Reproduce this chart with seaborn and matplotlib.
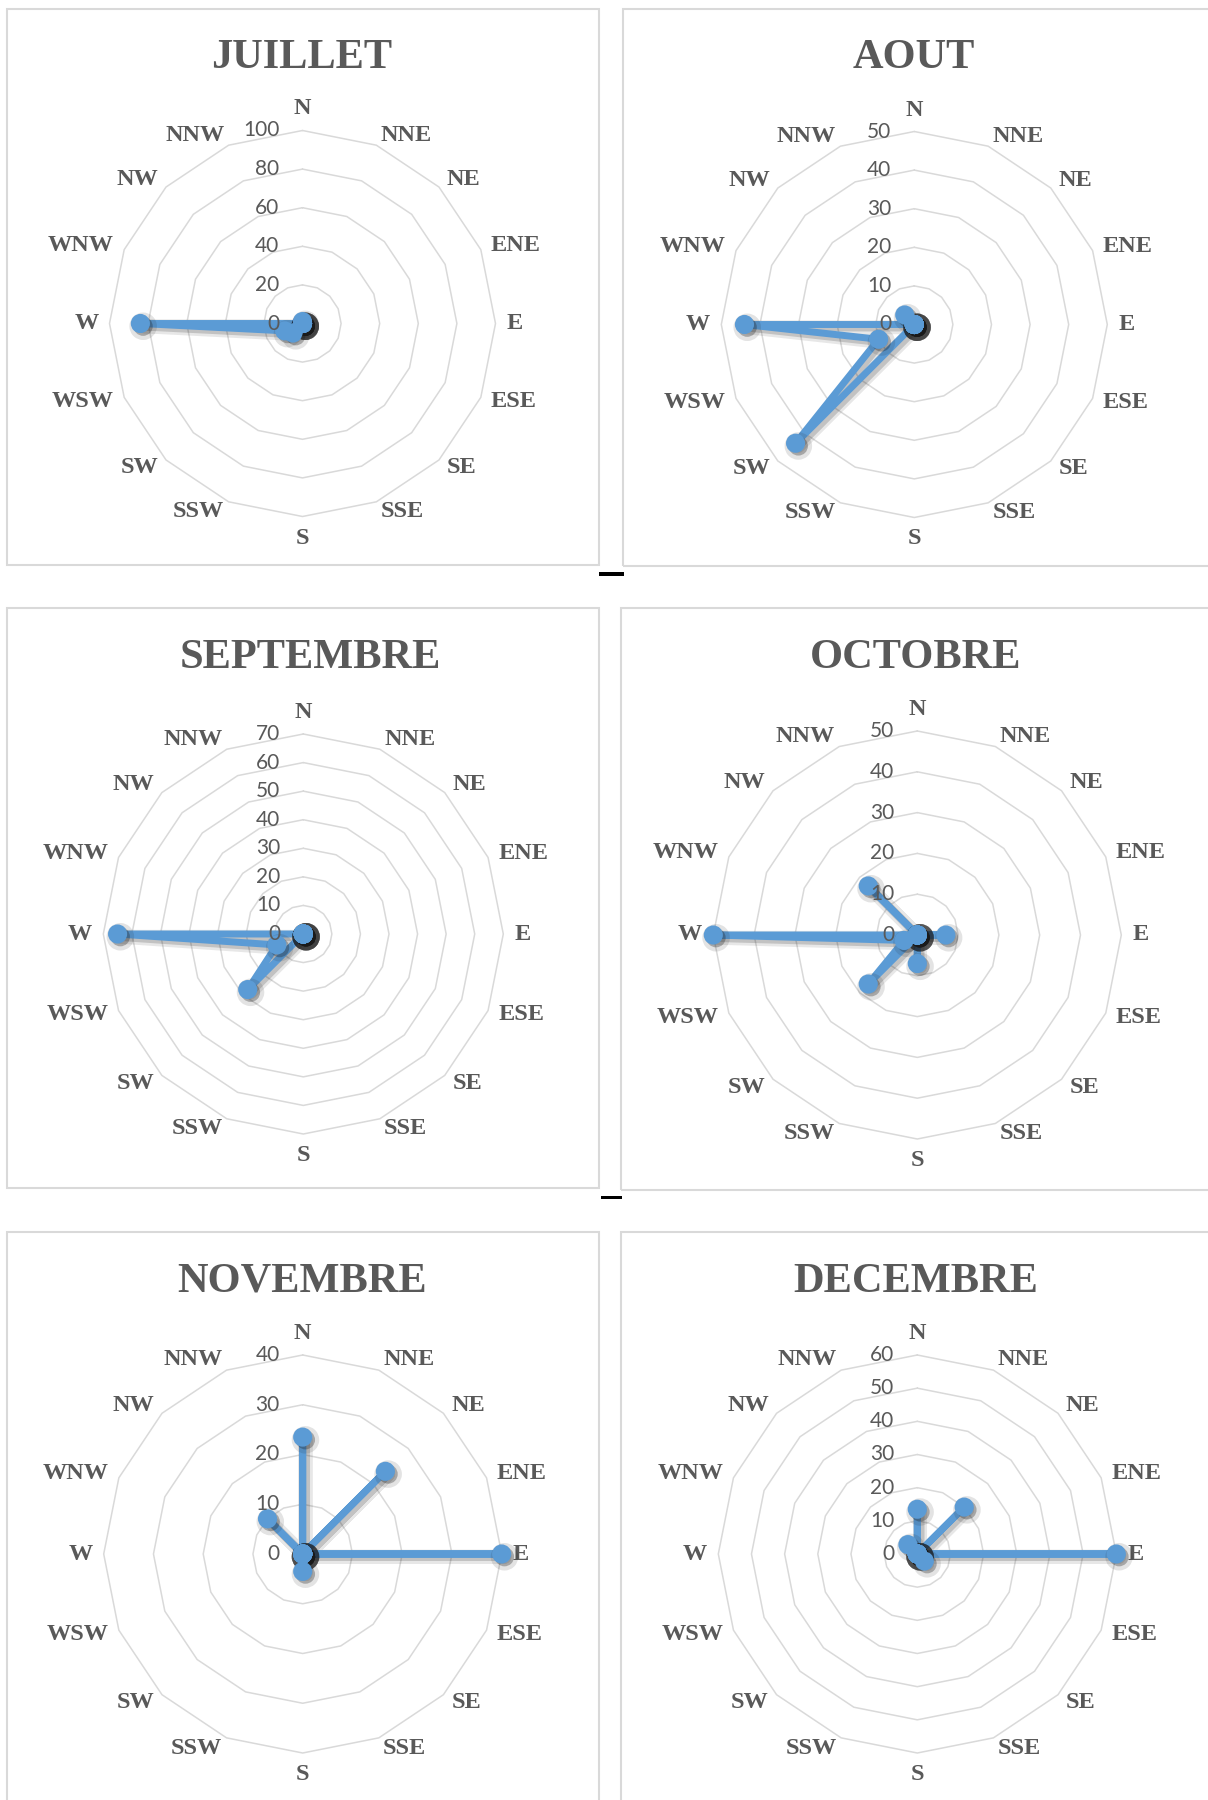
import numpy as np
import pandas as pd
import matplotlib
matplotlib.use("Agg")
import matplotlib.pyplot as plt
import matplotlib.patheffects as pe
from matplotlib.patches import Rectangle
from matplotlib import transforms
import seaborn as sns

sns.set_theme(style="white")
plt.rcParams["font.family"] = ["Liberation Serif", "DejaVu Serif"]

# Wind directions, clockwise from north
directions = ["N", "NNE", "NE", "ENE", "E", "ESE", "SE", "SSE",
              "S", "SSW", "SW", "WSW", "W", "WNW", "NW", "NNW"]

# Monthly frequency per direction
juillet = [1, 0, 0, 0, 0, 0, 0, 0, 0, 0, 7, 10, 84, 0, 0, 0]
aout = [0, 0, 0, 0, 0, 0, 0, 0, 0, 0, 43.5, 10, 44, 0, 3.5, 0]
septembre = [0, 0, 0, 0, 0, 0, 0, 0, 0, 0, 27.5, 10, 65, 0, 0, 0]
octobre = [0, 0, 0, 0, 7, 0, 0, 0, 7, 0, 17, 3.5, 50, 0, 17, 0]
novembre = [23.5, 0, 23.5, 0, 40, 0, 0, 0, 3.5, 0, 0, 0, 0, 0, 10, 0]
decembre = [13.5, 0, 20, 0, 60, 0, 3, 0, 0, 0, 0, 0, 0, 0, 4, 0]

# Radial tick values per month
ticks_juillet = [0, 20, 40, 60, 80, 100]
ticks_aout = [0, 10, 20, 30, 40, 50]
ticks_septembre = [0, 10, 20, 30, 40, 50, 60, 70]
ticks_octobre = [0, 10, 20, 30, 40, 50]
ticks_novembre = [0, 10, 20, 30, 40]
ticks_decembre = [0, 10, 20, 30, 40, 50, 60]

titles = ["JUILLET", "AOUT", "SEPTEMBRE", "OCTOBRE", "NOVEMBRE", "DECEMBRE"]
series = [juillet, aout, septembre, octobre, novembre, decembre]
ticks = [ticks_juillet, ticks_aout, ticks_septembre, ticks_octobre,
         ticks_novembre, ticks_decembre]

# Layout in pixels: radar centre, radius, title centre, panel frame
W, H = 1208, 1800
centers = [(302.5, 323.5), (914.3, 324.5), (303.3, 934), (917.3, 935),
           (302.7, 1554), (917.3, 1554)]
radii = [193, 193, 200, 204, 199, 199]
title_pos = [(302, 58), (914, 58), (310, 658), (916, 658), (302, 1282), (916, 1282)]
frames = [(7, 9, 599, 565), (623, 9, 1212, 566), (7, 608, 599, 1188),
          (621, 608, 1212, 1190), (7, 1232, 599, 1810), (621, 1232, 1212, 1810)]

BLUE = "#5B9BD5"
GRID = "#d9d9d9"
TEXT = "#595959"

fig = plt.figure(figsize=(W / 100, H / 100), dpi=100)
fig.patch.set_facecolor("white")

# Panel frames
for (x0, y0, x1, y1) in frames:
    fig.patches.append(Rectangle((x0 / W, 1 - y1 / H), (x1 - x0) / W, (y1 - y0) / H,
                                 transform=fig.transFigure, fill=False,
                                 edgecolor=GRID, linewidth=1.5, zorder=0))

# Small dashes between the upper panels
for (x0, y0, x1, y1) in [(599, 572, 624, 576), (601, 1196, 622, 1199)]:
    fig.patches.append(Rectangle((x0 / W, 1 - y1 / H), (x1 - x0) / W, (y1 - y0) / H,
                                 transform=fig.transFigure, facecolor="black",
                                 edgecolor="none", zorder=5))

theta = np.linspace(0, 2 * np.pi, len(directions), endpoint=False)
theta_closed = np.append(theta, 2 * np.pi)

for title, vals, tks, (cx, cy), R, (tx, ty) in zip(titles, series, ticks, centers,
                                                   radii, title_pos):
    rmax = tks[-1]
    ax = fig.add_axes([(cx - R) / W, 1 - (cy + R) / H, 2 * R / W, 2 * R / H],
                      projection="polar")
    ax.set_theta_zero_location("N")
    ax.set_theta_direction(-1)
    ax.patch.set_visible(False)
    ax.spines["polar"].set_visible(False)
    ax.grid(False)

    # Polygonal rings
    for t in tks[1:]:
        ax.plot(theta_closed, [t] * len(theta_closed), color=GRID,
                linewidth=1.1, zorder=1, clip_on=False)

    df = pd.DataFrame({"theta": theta_closed, "value": list(vals) + [vals[0]]})
    sns.lineplot(data=df, x="theta", y="value", sort=False, estimator=None,
                 ax=ax, color=BLUE, linewidth=5, zorder=3, clip_on=False)
    ax.lines[-1].set_path_effects([
        pe.SimpleLineShadow(offset=(2, -2), shadow_color="k", alpha=0.10, linewidth=10),
        pe.SimpleLineShadow(offset=(2, -2), shadow_color="k", alpha=0.18, linewidth=6),
        pe.Normal()])

    sns.scatterplot(data=df.iloc[:-1], x="theta", y="value", ax=ax, color=BLUE,
                    s=190, linewidth=0, zorder=4, clip_on=False)
    ax.collections[-1].set_path_effects([
        pe.SimpleLineShadow(offset=(2, -2), shadow_color="k", alpha=0.12, linewidth=6),
        pe.SimplePatchShadow(offset=(2, -2), shadow_rgbFace="k", alpha=0.3),
        pe.Normal()])

    ax.set_xticks([])
    ax.set_yticks([])
    ax.set_xlabel("")
    ax.set_ylabel("")
    ax.set_ylim(0, rmax)

    # Radial value labels left of the north axis, drawn above the series
    tick_tr = transforms.offset_copy(ax.transData, fig=fig, x=-23, y=0, units="dots")
    for t in tks:
        ax.text(0, t, f"{t:g}", transform=tick_tr, ha="right", va="center",
                fontsize=15, color=TEXT, family=["Lato", "DejaVu Sans"], zorder=6)

    # Direction labels just outside the outer ring
    gap = 11
    for ang, name in zip(theta, directions):
        s, c = np.sin(ang), np.cos(ang)
        ha = "left" if s > 0.01 else ("right" if s < -0.01 else "center")
        va = "bottom" if c > 0.99 else ("top" if c < -0.99 else "center")
        tr = transforms.offset_copy(ax.transData, fig=fig, x=gap * s, y=gap * c,
                                    units="dots")
        ax.text(ang, rmax, name, transform=tr, ha=ha, va=va, fontsize=17.5,
                fontweight="bold", color=TEXT, clip_on=False)

    fig.text(tx / W, 1 - ty / H, title, ha="center", va="center", fontsize=30.5,
             fontweight="bold", color=TEXT)

fig.savefig("out.png", dpi=100, facecolor="white")
